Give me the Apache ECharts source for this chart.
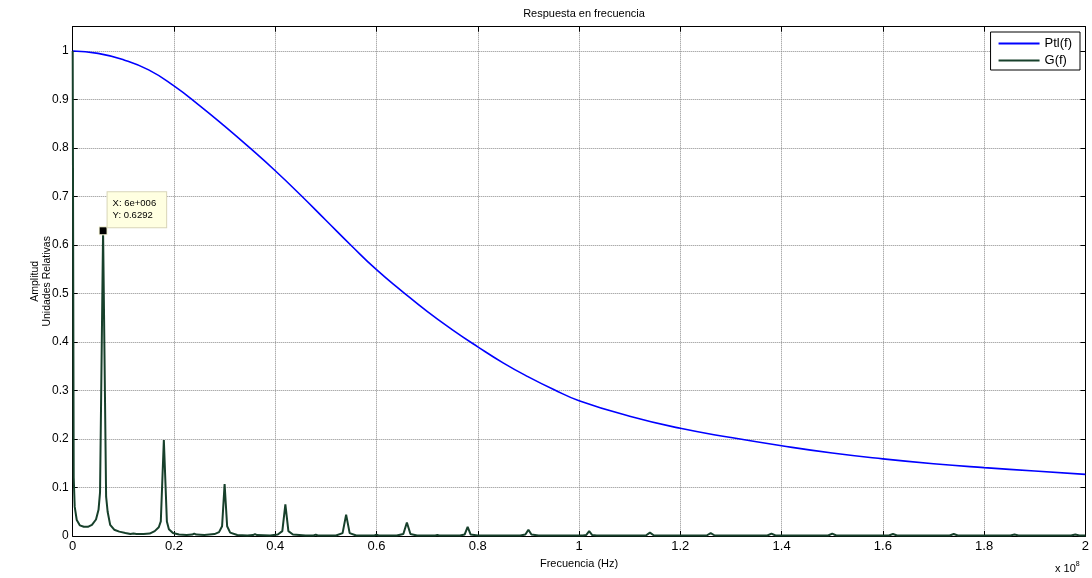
<!DOCTYPE html>
<html>
<head>
<meta charset="utf-8">
<script src="https://cdn.jsdelivr.net/npm/echarts@6/dist/echarts.min.js"></script>
<style>html,body{margin:0;padding:0;background:#fff;}#c{width:1092px;height:578px;}</style>
</head>
<body>
<div id="c"></div>
<script>
// ---- data (x in units of 1e8 Hz) ----
const xTicks = [0, 0.2, 0.4, 0.6, 0.8, 1, 1.2, 1.4, 1.6, 1.8, 2];
const yTicks = [0, 0.1, 0.2, 0.3, 0.4, 0.5, 0.6, 0.7, 0.8, 0.9, 1];

const ptlFreq = [0, 0.05, 0.1, 0.15, 0.2, 0.25, 0.3, 0.35, 0.4, 0.45, 0.5, 0.55, 0.6, 0.65, 0.7, 0.75, 0.8, 0.85, 0.9, 0.95, 1.0, 1.1, 1.2, 1.3, 1.4, 1.5, 1.6, 1.7, 1.8, 1.9, 2.0];
const ptlAmp  = [1.0, 0.995, 0.982, 0.961, 0.928, 0.888, 0.845, 0.800, 0.753, 0.703, 0.651, 0.599, 0.549, 0.505, 0.463, 0.425, 0.390, 0.357, 0.328, 0.302, 0.279, 0.247, 0.222, 0.203, 0.186, 0.171, 0.159, 0.149, 0.141, 0.134, 0.127];

const gFreq = [0, 0.002, 0.004, 0.008, 0.014, 0.022, 0.03, 0.038, 0.046, 0.051, 0.054, 0.06, 0.066, 0.069, 0.074, 0.082, 0.092, 0.104, 0.114, 0.12, 0.126, 0.14, 0.152, 0.162, 0.17, 0.174, 0.18, 0.186, 0.19, 0.198, 0.21, 0.225, 0.236, 0.24, 0.244, 0.26, 0.28, 0.289, 0.295, 0.3, 0.305, 0.311, 0.325, 0.345, 0.356, 0.36, 0.364, 0.39, 0.405, 0.414, 0.42, 0.426, 0.435, 0.46, 0.476, 0.48, 0.484, 0.52, 0.533, 0.54, 0.547, 0.56, 0.596, 0.6, 0.604, 0.64, 0.653, 0.66, 0.667, 0.68, 0.716, 0.72, 0.724, 0.765, 0.774, 0.78, 0.786, 0.8, 0.884, 0.894, 0.9, 0.906, 0.92, 1.008, 1.014, 1.02, 1.026, 1.035, 1.132, 1.14, 1.148, 1.252, 1.26, 1.268, 1.372, 1.38, 1.388, 1.492, 1.5, 1.508, 1.612, 1.62, 1.628, 1.732, 1.74, 1.748, 1.852, 1.86, 1.868, 1.972, 1.98, 1.988, 2.0];
const gAmp  = [1.0, 0.12, 0.06, 0.033, 0.022, 0.019, 0.019, 0.023, 0.034, 0.054, 0.09, 0.6292, 0.081, 0.05, 0.023, 0.013, 0.009, 0.006, 0.004, 0.005, 0.004, 0.004, 0.005, 0.01, 0.018, 0.03, 0.198, 0.03, 0.014, 0.006, 0.003, 0.002, 0.003, 0.005, 0.003, 0.002, 0.004, 0.008, 0.02, 0.107, 0.02, 0.007, 0.002, 0.001, 0.002, 0.004, 0.002, 0.001, 0.003, 0.01, 0.065, 0.01, 0.003, 0.001, 0.001, 0.003, 0.001, 0.001, 0.006, 0.044, 0.006, 0.001, 0.001, 0.003, 0.001, 0.001, 0.004, 0.028, 0.004, 0.001, 0.001, 0.002, 0.001, 0.001, 0.003, 0.019, 0.003, 0.001, 0.001, 0.003, 0.013, 0.003, 0.001, 0.001, 0.002, 0.010, 0.002, 0.001, 0.001, 0.007, 0.001, 0.001, 0.006, 0.001, 0.001, 0.005, 0.001, 0.001, 0.005, 0.001, 0.001, 0.004, 0.001, 0.001, 0.004, 0.001, 0.001, 0.003, 0.001, 0.001, 0.003, 0.001, 0.001];

const tipFreq = [0.06];
const tipAmp = [0.6292];
const tipLabel = ['X: 6e+006', 'Y: 0.6292'];

const seriesNames = ['Ptl(f)', 'G(f)'];
const titleText = 'Respuesta en frecuencia';
const xName = 'Frecuencia (Hz)';
const yName = 'Amplitud\nUnidades Relativas';

// ---- build ----
const FONT = '"Liberation Sans", Arial, sans-serif';
const zip = (a, b) => a.map((v, i) => [v, b[i]]);
const gridLine = { show: true, lineStyle: { color: '#8a8a8a', width: 1, type: [1, 1] } };
const tickIn = { show: true, inside: true, length: 5, lineStyle: { color: '#000', width: 1 } };

const chart = echarts.init(document.getElementById('c'), null, { renderer: 'canvas' });
chart.setOption({
  animation: false,
  backgroundColor: '#fff',
  title: {
    text: titleText, left: 579, top: 3, textAlign: 'center',
    textStyle: { fontFamily: FONT, fontSize: 11, fontWeight: 'normal', color: '#000' }
  },
  legend: {
    orient: 'vertical', right: 12, top: 32,
    data: seriesNames.map(n => ({ name: n, icon: 'rect' })),
    itemWidth: 41, itemHeight: 2, itemGap: 4,
    padding: [5, 8, 3, 8],
    backgroundColor: '#fff', borderColor: '#000', borderWidth: 1, borderRadius: 0,
    textStyle: { fontFamily: FONT, fontSize: 13, color: '#000' }
  },
  grid: { left: 72.7, right: 5.3, top: 26.7, bottom: 42, containLabel: false },
  xAxis: [
    {
      type: 'value', min: xTicks[0], max: xTicks[xTicks.length - 1], interval: 0.2,
      name: xName, nameLocation: 'middle', nameGap: 22, nameMoveOverlap: false,
      nameTextStyle: { fontFamily: FONT, fontSize: 11, color: '#000' },
      axisLine: { show: true, onZero: false, lineStyle: { color: '#000', width: 1 } },
      axisTick: tickIn,
      axisLabel: { fontFamily: FONT, fontSize: 13, color: '#000', margin: 4 },
      splitLine: gridLine
    },
    {
      type: 'value', position: 'top', min: xTicks[0], max: xTicks[xTicks.length - 1], interval: 0.2,
      axisLine: { show: true, onZero: false, lineStyle: { color: '#000', width: 1 } },
      axisTick: tickIn, axisLabel: { show: false }, splitLine: { show: false }
    }
  ],
  yAxis: [
    {
      type: 'value', min: yTicks[0], max: 1.05, interval: 0.1,
      name: yName, nameLocation: 'middle', nameGap: 20, nameRotate: 90, nameMoveOverlap: false,
      nameTextStyle: { fontFamily: FONT, fontSize: 10.5, color: '#000', lineHeight: 12 },
      axisLine: { show: true, onZero: false, lineStyle: { color: '#000', width: 1 } },
      axisTick: tickIn,
      axisLabel: {
        fontFamily: FONT, fontSize: 12, color: '#000', margin: 4,
        formatter: v => (v > 1.0001 ? '' : String(Math.round(v * 10) / 10))
      },
      splitLine: gridLine
    },
    {
      type: 'value', position: 'right', min: yTicks[0], max: 1.05, interval: 0.1,
      axisLine: { show: true, onZero: false, lineStyle: { color: '#000', width: 1 } },
      axisTick: tickIn, axisLabel: { show: false }, splitLine: { show: false }
    }
  ],
  series: [
    {
      name: seriesNames[0], type: 'line', data: zip(ptlFreq, ptlAmp),
      smooth: 0.5, showSymbol: false, color: '#0000ff',
      lineStyle: { width: 1.6, color: '#0000ff' }, z: 3
    },
    {
      name: seriesNames[1], type: 'line', data: zip(gFreq, gAmp),
      smooth: false, showSymbol: false, color: '#17402b',
      lineStyle: { width: 2, color: '#17402b' }, z: 4,
      markPoint: {
        symbol: 'rect', symbolSize: 8,
        itemStyle: { color: '#000', borderColor: '#ffffe0', borderWidth: 1 },
        data: [{ coord: [tipFreq[0], tipAmp[0]] }],
        label: {
          show: true, position: [9, -34],
          formatter: tipLabel.join('\n'),
          fontFamily: FONT, fontSize: 9.5, lineHeight: 12, color: '#000',
          backgroundColor: '#ffffe1', borderColor: '#d8d5b8', borderWidth: 1,
          padding: [5, 10, 6, 5], align: 'left', verticalAlign: 'top'
        }
      }
    }
  ],
  graphic: [
    {
      type: 'text', left: 1055, top: 561,
      style: {
        text: 'x 10{s|8}', fontFamily: FONT, fontSize: 11, fill: '#000',
        rich: { s: { fontSize: 7, verticalAlign: 'top', padding: [0, 0, 8, 0], fontFamily: FONT } }
      }
    }
  ]
});
</script>
</body>
</html>
